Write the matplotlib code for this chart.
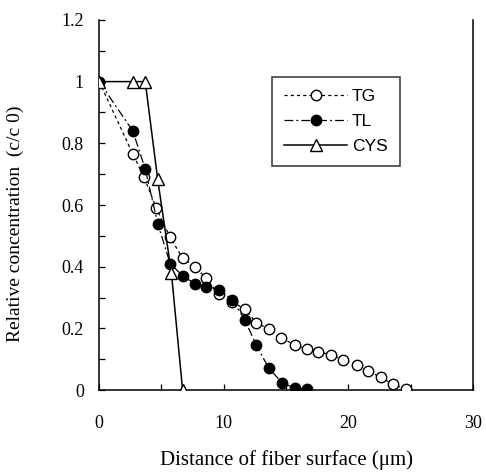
import matplotlib
matplotlib.use("Agg")
import matplotlib.pyplot as plt
from matplotlib.ticker import MultipleLocator

tg_x = [0, 2.7, 3.6, 4.6, 5.7, 6.7, 7.7, 8.6, 9.6, 10.7, 11.7, 12.6, 13.6, 14.6,
        15.7, 16.7, 17.6, 18.6, 19.6, 20.7, 21.6, 22.6, 23.6, 24.6]
tg_y = [1.0, 0.766, 0.69, 0.589, 0.495, 0.428, 0.40, 0.362, 0.31, 0.285, 0.263,
        0.219, 0.198, 0.169, 0.147, 0.133, 0.124, 0.115, 0.098, 0.08, 0.063,
        0.041, 0.019, 0.002]

tl_x = [0, 2.7, 3.7, 4.7, 5.7, 6.7, 7.7, 8.6, 9.6, 10.7, 11.7, 12.6, 13.6, 14.7,
        15.7, 16.7]
tl_y = [1.0, 0.84, 0.717, 0.54, 0.41, 0.371, 0.344, 0.335, 0.325, 0.293, 0.227,
        0.147, 0.072, 0.023, 0.007, 0.003]

cys_x = [0, 2.7, 3.7, 4.7, 5.8, 6.7]
cys_y = [1.0, 1.0, 1.0, 0.683, 0.38, 0.0]

labels = ["TG", "TL", "CYS"]
y_ticks = [0, 0.2, 0.4, 0.6, 0.8, 1.0, 1.2]
y_ticklabels = ["0", "0.2", "0.4", "0.6", "0.8", "1", "1.2"]

serif = ["Liberation Serif", "DejaVu Serif"]

fig = plt.figure(figsize=(4.86, 4.74), dpi=100)
ax = fig.add_axes([0.204, 0.177, 0.769, 0.781])

ax.plot(tg_x, tg_y, linestyle=(0, (2.5, 2.5)), color="black", lw=0.9,
        marker="o", markersize=7.5, markerfacecolor="white", markeredgecolor="black",
        markeredgewidth=1.0, label=labels[0], zorder=3)
ax.plot(tl_x, tl_y, linestyle=(0, (7, 2.5, 1.5, 2.5)), color="black", lw=0.9,
        marker="o", markersize=7.5, markerfacecolor="black", markeredgecolor="black",
        label=labels[1], zorder=4)
ax.plot(cys_x, cys_y, linestyle="-", color="black", lw=1.1,
        marker="^", markersize=8.5, markerfacecolor="white", markeredgecolor="black",
        markeredgewidth=1.0, label=labels[2], zorder=5)

ax.set_xlim(0, 30)
ax.set_ylim(0, 1.2)
ax.xaxis.set_major_locator(MultipleLocator(10))
ax.xaxis.set_minor_locator(MultipleLocator(5))
ax.set_yticks(y_ticks)
ax.set_yticklabels(y_ticklabels)
ax.yaxis.set_minor_locator(MultipleLocator(0.1))

ax.tick_params(which="both", direction="in", length=4, width=0.9,
               top=False, right=False)
ax.tick_params(axis="x", which="major", pad=18)
ax.tick_params(axis="y", which="major", pad=11)
for lab in ax.get_xticklabels() + ax.get_yticklabels():
    lab.set_fontfamily(serif)
    lab.set_fontsize(13)

ax.spines["top"].set_visible(False)
for s in ["left", "bottom", "right"]:
    ax.spines[s].set_linewidth(1.1)

ax.set_xlabel("Distance of fiber surface (\u03bcm)", fontfamily=serif,
              fontsize=15, labelpad=13)
ax.set_ylabel("Relative concentration  (c/c 0)", fontfamily=serif,
              fontsize=14, labelpad=12)
ax.yaxis.set_label_coords(-0.2, 0.45)

leg = ax.legend(loc="upper left", bbox_to_anchor=(0.463, 0.846),
                prop={"family": ["Liberation Sans", "DejaVu Sans"], "size": 12.5},
                frameon=True, fancybox=False, edgecolor="black",
                handlelength=3.6, handletextpad=0.3, borderpad=0.7,
                labelspacing=0.55, borderaxespad=0)
leg.get_frame().set_linewidth(1.1)

fig.savefig("out.png", dpi=100)
